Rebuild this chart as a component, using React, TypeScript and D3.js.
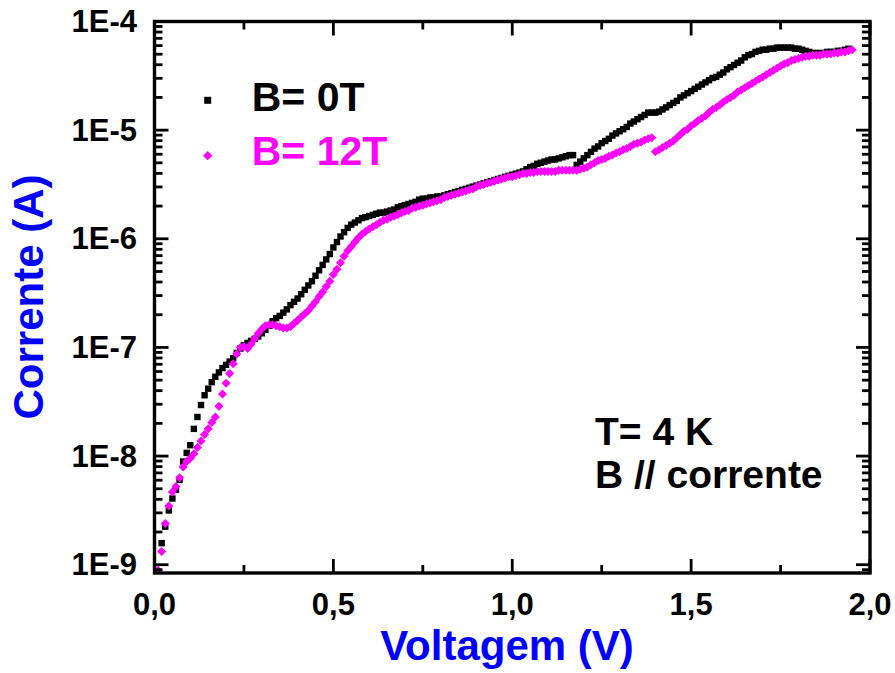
import React from "react";
import * as d3 from "d3";

// Voltage grid (V)
const voltage = [
  0.01, 0.02, 0.03, 0.04, 0.05, 0.06, 0.07, 0.08, 0.09, 0.10,
  0.11, 0.12, 0.13, 0.14, 0.15, 0.16, 0.17, 0.18, 0.19, 0.20,
  0.21, 0.22, 0.23, 0.24, 0.25, 0.26, 0.27, 0.28, 0.29, 0.30,
  0.31, 0.32, 0.33, 0.34, 0.35, 0.36, 0.37, 0.38, 0.39, 0.40,
  0.41, 0.42, 0.43, 0.44, 0.45, 0.46, 0.47, 0.48, 0.49, 0.50,
  0.51, 0.52, 0.53, 0.54, 0.55, 0.56, 0.57, 0.58, 0.59, 0.60,
  0.61, 0.62, 0.63, 0.64, 0.65, 0.66, 0.67, 0.68, 0.69, 0.70,
  0.71, 0.72, 0.73, 0.74, 0.75, 0.76, 0.77, 0.78, 0.79, 0.80,
  0.81, 0.82, 0.83, 0.84, 0.85, 0.86, 0.87, 0.88, 0.89, 0.90,
  0.91, 0.92, 0.93, 0.94, 0.95, 0.96, 0.97, 0.98, 0.99, 1.00,
  1.01, 1.02, 1.03, 1.04, 1.05, 1.06, 1.07, 1.08, 1.09, 1.10,
  1.11, 1.12, 1.13, 1.14, 1.15, 1.16, 1.17, 1.18, 1.19, 1.20,
  1.21, 1.22, 1.23, 1.24, 1.25, 1.26, 1.27, 1.28, 1.29, 1.30,
  1.31, 1.32, 1.33, 1.34, 1.35, 1.36, 1.37, 1.38, 1.39, 1.40,
  1.41, 1.42, 1.43, 1.44, 1.45, 1.46, 1.47, 1.48, 1.49, 1.50,
  1.51, 1.52, 1.53, 1.54, 1.55, 1.56, 1.57, 1.58, 1.59, 1.60,
  1.61, 1.62, 1.63, 1.64, 1.65, 1.66, 1.67, 1.68, 1.69, 1.70,
  1.71, 1.72, 1.73, 1.74, 1.75, 1.76, 1.77, 1.78, 1.79, 1.80,
  1.81, 1.82, 1.83, 1.84, 1.85, 1.86, 1.87, 1.88, 1.89, 1.90,
  1.91, 1.92, 1.93, 1.94, 1.95,
];

// Current (A), B = 0T
const current0T = [
  null, 1.58e-9, 2.24e-9, 3.16e-9, 4.07e-9, 4.90e-9, 6.03e-9, 8.91e-9, 1.07e-8, 1.26e-8,
  1.78e-8, 2.29e-8, 2.95e-8, 3.63e-8, 4.17e-8, 4.79e-8, 5.37e-8, 5.89e-8, 6.46e-8, 6.92e-8,
  7.41e-8, 7.94e-8, 8.91e-8, 9.77e-8, 1.05e-7, 1.10e-7, 1.15e-7, 1.20e-7, 1.26e-7, 1.35e-7,
  1.45e-7, 1.58e-7, 1.74e-7, 1.86e-7, 1.95e-7, 2.09e-7, 2.24e-7, 2.45e-7, 2.63e-7, 2.82e-7,
  3.09e-7, 3.39e-7, 3.72e-7, 4.07e-7, 4.57e-7, 5.13e-7, 5.75e-7, 6.46e-7, 7.24e-7, 8.32e-7,
  9.33e-7, 1.05e-6, 1.15e-6, 1.26e-6, 1.35e-6, 1.41e-6, 1.48e-6, 1.55e-6, 1.58e-6, 1.62e-6,
  1.66e-6, 1.70e-6, 1.74e-6, 1.74e-6, 1.78e-6, 1.82e-6, 1.86e-6, 1.95e-6, 2.00e-6, 2.04e-6,
  2.09e-6, 2.14e-6, 2.19e-6, 2.29e-6, 2.34e-6, 2.34e-6, 2.40e-6, 2.40e-6, 2.45e-6, 2.45e-6,
  2.51e-6, 2.57e-6, 2.63e-6, 2.69e-6, 2.75e-6, 2.82e-6, 2.88e-6, 2.95e-6, 3.02e-6, 3.09e-6,
  3.16e-6, 3.24e-6, 3.31e-6, 3.39e-6, 3.47e-6, 3.55e-6, 3.63e-6, 3.72e-6, 3.80e-6, 3.89e-6,
  3.98e-6, 4.07e-6, 4.17e-6, 4.37e-6, 4.57e-6, 4.68e-6, 4.90e-6, 5.01e-6, 5.13e-6, 5.25e-6,
  5.37e-6, 5.37e-6, 5.50e-6, 5.62e-6, 5.75e-6, 5.89e-6, 5.89e-6, 4.79e-6, 5.13e-6, 5.50e-6,
  5.89e-6, 6.31e-6, 6.76e-6, 7.08e-6, 7.59e-6, 7.94e-6, 8.32e-6, 8.91e-6, 9.33e-6, 9.77e-6,
  1.02e-5, 1.07e-5, 1.15e-5, 1.20e-5, 1.26e-5, 1.32e-5, 1.38e-5, 1.45e-5, 1.45e-5, 1.45e-5,
  1.48e-5, 1.55e-5, 1.62e-5, 1.70e-5, 1.78e-5, 1.86e-5, 2.00e-5, 2.09e-5, 2.19e-5, 2.29e-5,
  2.40e-5, 2.51e-5, 2.63e-5, 2.75e-5, 2.88e-5, 3.02e-5, 3.09e-5, 3.24e-5, 3.39e-5, 3.63e-5,
  3.80e-5, 3.98e-5, 4.17e-5, 4.37e-5, 4.68e-5, 4.90e-5, 5.01e-5, 5.25e-5, 5.37e-5, 5.50e-5,
  5.50e-5, 5.62e-5, 5.62e-5, 5.75e-5, 5.75e-5, 5.75e-5, 5.75e-5, 5.75e-5, 5.62e-5, 5.62e-5,
  5.50e-5, 5.37e-5, 5.25e-5, 5.13e-5, 5.13e-5, 5.13e-5, 5.13e-5, 5.25e-5, 5.25e-5, 5.25e-5,
  5.37e-5, 5.37e-5, 5.50e-5, 5.62e-5, null,
];

// Current (A), B = 12T
const current12T = [
  8.91e-10, 1.32e-9, 2.40e-9, 3.47e-9, 4.68e-9, 5.25e-9, 6.31e-9, 7.94e-9, 8.91e-9, 9.55e-9,
  1.05e-8, 1.20e-8, 1.38e-8, 1.58e-8, 1.78e-8, 2.04e-8, 2.29e-8, 2.88e-8, 3.72e-8, 4.68e-8,
  5.75e-8, 7.08e-8, 8.71e-8, 1.00e-7, 1.02e-7, 9.77e-8, 1.07e-7, 1.20e-7, 1.35e-7, 1.48e-7,
  1.58e-7, 1.62e-7, 1.62e-7, 1.58e-7, 1.55e-7, 1.51e-7, 1.51e-7, 1.55e-7, 1.66e-7, 1.78e-7,
  1.91e-7, 2.04e-7, 2.19e-7, 2.40e-7, 2.63e-7, 2.95e-7, 3.24e-7, 3.63e-7, 4.07e-7, 4.68e-7,
  5.25e-7, 6.03e-7, 6.92e-7, 7.76e-7, 8.51e-7, 9.33e-7, 1.02e-6, 1.10e-6, 1.17e-6, 1.23e-6,
  1.29e-6, 1.35e-6, 1.41e-6, 1.48e-6, 1.51e-6, 1.58e-6, 1.62e-6, 1.66e-6, 1.74e-6, 1.78e-6,
  1.82e-6, 1.91e-6, 1.95e-6, 2.00e-6, 2.04e-6, 2.09e-6, 2.14e-6, 2.19e-6, 2.24e-6, 2.29e-6,
  2.40e-6, 2.45e-6, 2.51e-6, 2.57e-6, 2.63e-6, 2.69e-6, 2.75e-6, 2.82e-6, 2.88e-6, 3.02e-6,
  3.09e-6, 3.16e-6, 3.24e-6, 3.31e-6, 3.39e-6, 3.47e-6, 3.55e-6, 3.63e-6, 3.72e-6, 3.72e-6,
  3.80e-6, 3.89e-6, 3.98e-6, 3.98e-6, 4.07e-6, 4.07e-6, 4.17e-6, 4.17e-6, 4.17e-6, 4.17e-6,
  4.17e-6, 4.17e-6, 4.27e-6, 4.27e-6, 4.27e-6, 4.27e-6, 4.27e-6, 4.27e-6, 4.37e-6, 4.47e-6,
  4.57e-6, 4.79e-6, 5.01e-6, 5.25e-6, 5.37e-6, 5.50e-6, 5.75e-6, 5.89e-6, 6.17e-6, 6.31e-6,
  6.61e-6, 6.76e-6, 7.08e-6, 7.41e-6, 7.59e-6, 7.76e-6, 8.13e-6, 8.32e-6, 8.51e-6, 6.31e-6,
  6.61e-6, 6.92e-6, 7.24e-6, 7.59e-6, 7.94e-6, 8.51e-6, 9.12e-6, 9.77e-6, 1.02e-5, 1.10e-5,
  1.15e-5, 1.23e-5, 1.29e-5, 1.35e-5, 1.45e-5, 1.55e-5, 1.62e-5, 1.70e-5, 1.82e-5, 1.91e-5,
  2.00e-5, 2.09e-5, 2.24e-5, 2.34e-5, 2.45e-5, 2.57e-5, 2.69e-5, 2.82e-5, 2.95e-5, 3.09e-5,
  3.24e-5, 3.39e-5, 3.55e-5, 3.72e-5, 3.89e-5, 4.07e-5, 4.17e-5, 4.37e-5, 4.47e-5, 4.57e-5,
  4.68e-5, 4.79e-5, 4.79e-5, 4.90e-5, 4.90e-5, 4.90e-5, 5.01e-5, 5.01e-5, 5.01e-5, 5.13e-5,
  5.13e-5, 5.25e-5, 5.25e-5, 5.37e-5, 5.50e-5,
];

const xTickValues = [0, 0.5, 1.0, 1.5, 2.0];
const xTickLabels = ["0,0", "0,5", "1,0", "1,5", "2,0"];
const xMinorValues = [0.25, 0.75, 1.25, 1.75];
const yTickValues = [1e-9, 1e-8, 1e-7, 1e-6, 1e-5, 1e-4];
const yTickLabels = ["1E-9", "1E-8", "1E-7", "1E-6", "1E-5", "1E-4"];
const seriesNames = ["B= 0T", "B= 12T"];
const annotations = ["T= 4 K", "B // corrente"];

const FONT = "Arial, 'Liberation Sans', Helvetica, sans-serif";
const MAGENTA = "#FF00FF";
const BLUE = "#0000FF";

export default function App() {
  const W = 895;
  const H = 673;
  const left = 154.5;
  const right = 870;
  const top = 21.5;
  const bottom = 573;

  const x = d3.scaleLinear().domain([0, 2]).range([left, right]);
  const y = d3.scaleLog().domain([8.39e-10, 1e-4]).range([bottom, top]);

  const yMinor: number[] = [];
  for (let e = -10; e <= -5; e++) {
    for (let m = 2; m <= 9; m++) {
      const v = m * Math.pow(10, e);
      if (v > 8.39e-10 && v < 1e-4) yMinor.push(v);
    }
  }

  const pts0 = voltage
    .map((v, i) => ({ v, c: current0T[i] }))
    .filter((d) => d.c != null) as { v: number; c: number }[];
  const pts12 = voltage
    .map((v, i) => ({ v, c: current12T[i] }))
    .filter((d) => d.c != null) as { v: number; c: number }[];

  const sq = 6.4;
  const dr = 4.5;
  const diamond = (r: number) => `M0,${-r}L${r},0L0,${r}L${-r},0Z`;

  const majorLen = 14;
  const minorLen = 8;
  const tickW = 2.8;

  return (
    <svg
      width={W}
      height={H}
      style={{ position: "fixed", left: 0, top: 0, background: "#fff" }}
      fontFamily={FONT}
    >
      <defs>
        <clipPath id="plotClip">
          <rect x={left} y={top} width={right - left} height={bottom - top} />
        </clipPath>
      </defs>
      <rect x={0} y={0} width={W} height={H} fill="#fff" />

      {/* data */}
      <g clipPath="url(#plotClip)">
        {pts0.map((d, i) => (
          <rect
            key={"b" + i}
            x={x(d.v) - sq / 2}
            y={y(d.c) - sq / 2}
            width={sq}
            height={sq}
            fill="#000"
          />
        ))}
        {pts12.map((d, i) => (
          <path
            key={"m" + i}
            d={diamond(dr)}
            transform={`translate(${x(d.v)},${y(d.c)})`}
            fill={MAGENTA}
          />
        ))}
      </g>

      {/* x ticks (bottom & top) */}
      {xTickValues.map((v) => (
        <g key={"xt" + v}>
          <line x1={x(v)} x2={x(v)} y1={bottom} y2={bottom - majorLen} stroke="#000" strokeWidth={tickW} />
          <line x1={x(v)} x2={x(v)} y1={top} y2={top + majorLen} stroke="#000" strokeWidth={tickW} />
        </g>
      ))}
      {xMinorValues.map((v) => (
        <g key={"xm" + v}>
          <line x1={x(v)} x2={x(v)} y1={bottom} y2={bottom - minorLen} stroke="#000" strokeWidth={tickW} />
          <line x1={x(v)} x2={x(v)} y1={top} y2={top + minorLen} stroke="#000" strokeWidth={tickW} />
        </g>
      ))}
      {/* y ticks (left & right) */}
      {yTickValues.map((v) => (
        <g key={"yt" + v}>
          <line x1={left} x2={left + majorLen} y1={y(v)} y2={y(v)} stroke="#000" strokeWidth={tickW} />
          <line x1={right} x2={right - majorLen} y1={y(v)} y2={y(v)} stroke="#000" strokeWidth={tickW} />
        </g>
      ))}
      {yMinor.map((v, i) => (
        <g key={"ym" + i}>
          <line x1={left} x2={left + minorLen} y1={y(v)} y2={y(v)} stroke="#000" strokeWidth={tickW} />
          <line x1={right} x2={right - minorLen} y1={y(v)} y2={y(v)} stroke="#000" strokeWidth={tickW} />
        </g>
      ))}

      {/* frame */}
      <rect
        x={left}
        y={top}
        width={right - left}
        height={bottom - top}
        fill="none"
        stroke="#000"
        strokeWidth={3.4}
      />

      {/* tick labels */}
      {xTickValues.map((v, i) => (
        <text
          key={"xl" + v}
          x={x(v)}
          y={615}
          textAnchor="middle"
          fontSize={31}
          fontWeight="bold"
          fill="#000"
        >
          {xTickLabels[i]}
        </text>
      ))}
      {yTickValues.map((v, i) => (
        <text
          key={"yl" + v}
          x={137}
          y={y(v) + 10.5}
          textAnchor="end"
          fontSize={31}
          fontWeight="bold"
          fill="#000"
        >
          {yTickLabels[i]}
        </text>
      ))}

      {/* axis titles */}
      <text x={507} y={660} textAnchor="middle" fontSize={42} fontWeight="bold" fill={BLUE}>
        Voltagem (V)
      </text>
      <text
        transform={`translate(43,297) rotate(-90)`}
        textAnchor="middle"
        fontSize={42}
        fontWeight="bold"
        fill={BLUE}
      >
        Corrente (A)
      </text>

      {/* legend */}
      <rect x={207.7 - 3.5} y={100.3 - 3.5} width={7} height={7} fill="#000" />
      <text x={251.7} y={111} fontSize={41} fontWeight="bold" fill="#000">
        {seriesNames[0]}
      </text>
      <path d={diamond(4.6)} transform="translate(207.7,155.7)" fill={MAGENTA} />
      <text x={251.7} y={165} fontSize={41} fontWeight="bold" fill={MAGENTA}>
        {seriesNames[1]}
      </text>

      {/* annotations */}
      <text x={595} y={445} fontSize={39} fontWeight="bold" fill="#000">
        {annotations[0]}
      </text>
      <text x={595} y={488} fontSize={39} fontWeight="bold" fill="#000">
        {annotations[1]}
      </text>
    </svg>
  );
}
